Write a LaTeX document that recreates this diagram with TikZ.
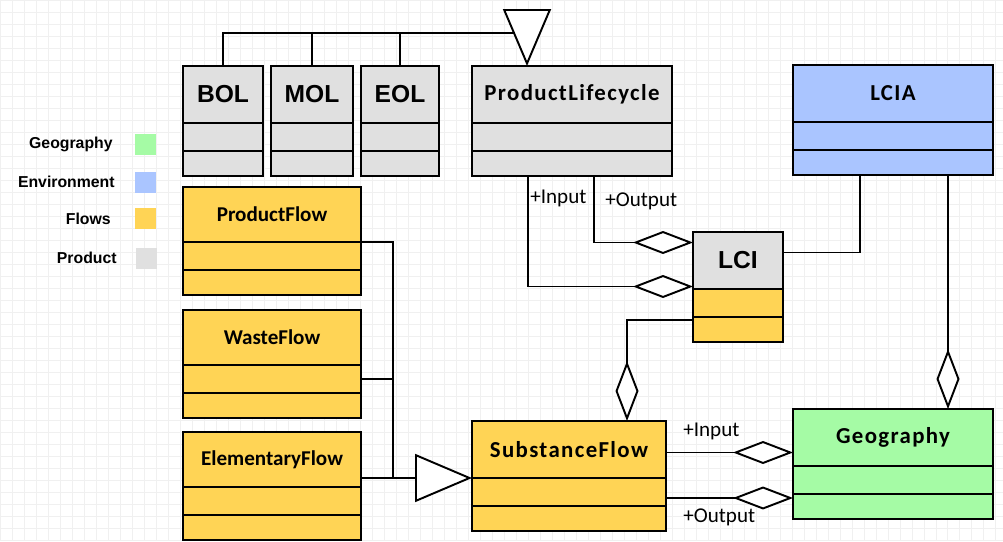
\documentclass[tikz,border=0pt]{standalone}
\usepackage{fontspec}
\setmainfont{Carlito}
\newfontfamily\legfont{Liberation Sans}
\newfontfamily\clswide{Carlito}[LetterSpace=6]
\usepackage{tikz}
\usetikzlibrary{positioning, arrows.meta, calc}
\definecolor{prodgray}{HTML}{E0E0E0}
\definecolor{flowyellow}{HTML}{FFD455}
\definecolor{envblue}{HTML}{AAC5FF}
\definecolor{geogreen}{HTML}{A5FBA5}
\tikzset{%
    % compartments of a class box
    ctitle/.style = {draw, line width=1.1pt, rectangle, outer sep=0pt,
    inner sep=0pt, minimum height=1.14cm},
    cpart/.style  = {draw, line width=1.1pt, rectangle, outer sep=0pt,
    inner sep=0pt, minimum height=0.56cm},
    clast/.style  = {draw, line width=1.1pt, rectangle, outer sep=0pt,
    inner sep=0pt, minimum height=0.5cm},
    % fonts of the titles
    bigname/.style  = {font=\legfont\bfseries\fontsize{14}{16}\selectfont},
    flowname/.style = {font=\bfseries\fontsize{12}{14}\selectfont},
    widename/.style = {font=\clswide\bfseries\fontsize{13}{15}\selectfont},
    % legend
    legtext/.style = {anchor=east, inner sep=0pt,
    font=\legfont\bfseries\fontsize{9}{11}\selectfont},
    legbox/.style  = {rectangle, minimum size=0.42cm, inner sep=0pt},
    % role labels
    role/.style = {anchor=west, inner sep=0pt, font=\fontsize{12}{14}\selectfont}
}

\begin{document}
\begin{tikzpicture}[x=0.02cm, y=-0.02cm]

	\tikzstyle{line}=[line width=1.1pt]
	\tikzstyle{gen}=[line width=1.1pt, -{Triangle[fill=white, length=1.14cm, width=0.96cm]}]
	\tikzstyle{agg}=[line width=1.1pt, -{Diamond[fill=white, length=1.2cm, width=0.46cm]}]
	\tikzstyle{gridline}=[black!6, line width=0.4pt]

	\useasboundingbox (0,0) rectangle (1003,541);
	\draw[gridline, step=0.24cm] (0,541) grid (1003,0);

	% legend
	\node[legtext] (lgeo) at (113,144) {Geography};
	\node[legbox, fill=geogreen] (kgeo) at (145,144) {};
	\node[legtext] (lenv) at (115,182) {Environment};
	\node[legbox, fill=envblue] (kenv) at (145,182) {};
	\node[legtext] (lflow) at (111,219) {Flows};
	\node[legbox, fill=flowyellow] (kflow) at (145,218) {};
	\node[legtext] (lprod) at (117,258) {Product};
	\node[legbox, fill=prodgray] (kprod) at (146,258) {};

	% product classes
	\node[ctitle, bigname, fill=prodgray, minimum width=1.6cm] (bol) at (223,94.5) {BOL};
	\node[cpart, fill=prodgray, minimum width=1.6cm, below=0pt of bol] (bol2) {};
	\node[clast, fill=prodgray, minimum width=1.6cm, below=0pt of bol2] (bol3) {};
	\node[ctitle, bigname, fill=prodgray, minimum width=1.64cm] (mol) at (312,94.5) {MOL};
	\node[cpart, fill=prodgray, minimum width=1.64cm, below=0pt of mol] (mol2) {};
	\node[clast, fill=prodgray, minimum width=1.64cm, below=0pt of mol2] (mol3) {};
	\node[ctitle, bigname, fill=prodgray, minimum width=1.56cm] (eol) at (400,94.5) {EOL};
	\node[cpart, fill=prodgray, minimum width=1.56cm, below=0pt of eol] (eol2) {};
	\node[clast, fill=prodgray, minimum width=1.56cm, below=0pt of eol2] (eol3) {};
	\node[ctitle, widename, fill=prodgray, minimum width=4cm] (plc) at (572,94.5) {ProductLifecycle};
	\node[cpart, fill=prodgray, minimum width=4cm, below=0pt of plc] (plc2) {};
	\node[clast, fill=prodgray, minimum width=4cm, below=0pt of plc2] (plc3) {};

	% environment
	\node[ctitle, widename, fill=envblue, minimum width=4cm] (lcia) at (893,93.5) {LCIA};
	\node[cpart, fill=envblue, minimum width=4cm, below=0pt of lcia] (lcia2) {};
	\node[clast, fill=envblue, minimum width=4cm, below=0pt of lcia2] (lcia3) {};

	\node[ctitle, bigname, fill=prodgray, minimum width=1.8cm] (lci) at (738,260.5) {LCI};
	\node[cpart, fill=flowyellow, minimum width=1.8cm, below=0pt of lci] (lci2) {};
	\node[clast, fill=flowyellow, minimum width=1.8cm, below=0pt of lci2] (lci3) {};

	% flows
	\node[ctitle, flowname, fill=flowyellow, minimum width=3.56cm, minimum height=1.1cm] (pf) at (272,214.5) {ProductFlow};
	\node[cpart, fill=flowyellow, minimum width=3.56cm, below=0pt of pf] (pf2) {};
	\node[clast, fill=flowyellow, minimum width=3.56cm, below=0pt of pf2] (pf3) {};
	\node[ctitle, flowname, fill=flowyellow, minimum width=3.56cm, minimum height=1.1cm] (wf) at (272,337.5) {WasteFlow};
	\node[cpart, fill=flowyellow, minimum width=3.56cm, below=0pt of wf] (wf2) {};
	\node[clast, fill=flowyellow, minimum width=3.56cm, below=0pt of wf2] (wf3) {};
	\node[ctitle, flowname, fill=flowyellow, minimum width=3.56cm, minimum height=1.1cm] (ef) at (272,459.5) {ElementaryFlow};
	\node[cpart, fill=flowyellow, minimum width=3.56cm, below=0pt of ef] (ef2) {};
	\node[clast, fill=flowyellow, minimum width=3.56cm, below=0pt of ef2] (ef3) {};
	\node[ctitle, widename, fill=flowyellow, minimum width=3.88cm] (sf) at (569,449.5) {SubstanceFlow};
	\node[cpart, fill=flowyellow, minimum width=3.88cm, below=0pt of sf] (sf2) {};
	\node[clast, fill=flowyellow, minimum width=3.88cm, below=0pt of sf2] (sf3) {};

	% geography
	\node[ctitle, widename, fill=geogreen, minimum width=4cm] (geo) at (893,437.5) {Geography};
	\node[cpart, fill=geogreen, minimum width=4cm, below=0pt of geo] (geo2) {};
	\node[clast, fill=geogreen, minimum width=4cm, below=0pt of geo2] (geo3) {};

	% generalisation of the life phases
	\coordinate (gtop) at (527,9);
	\coordinate (gmid) at (527,33);
	\draw[line] (bol.north) |- (gmid);
	\draw[line] (mol.north) -- (mol.north |- gmid);
	\draw[line] (eol.north) -- (eol.north |- gmid);
	\draw[gen] (gtop) -- (plc.north -| gtop);

	% generalisation of the flows
	\coordinate (fj) at (393,478);
	\draw[line] (pf2.north east) -| (fj);
	\draw[line] (wf2.east) -| (fj);
	\draw[gen] (ef.east |- sf2.north west) -- (sf2.north west);

	% aggregations
	\draw[agg] ($(plc3.south)+(-44,0)$) |- ($(lci.west)+(0,26)$);
	\draw[agg] ($(plc3.south)+(22,0)$) |- ($(lci.west)+(0,-18)$);
	\node[role] (pin) at (530,198) {+Input};
	\node[role] (pout) at (605,201) {+Output};

	\draw[line] ($(lci.east)+(0,-8)$) -| ($(lcia3.south)+(-33,0)$);
	\draw[agg] ($(lcia3.south)+(55,0)$) -- ($(geo.north)+(55,0)$);
	\draw[agg] ($(lci3.north west)+(0,3)$) -| ($(sf.north)+(58,0)$);

	\coordinate (si) at ($(sf.east)+(0,3)$);
	\coordinate (so) at ($(sf2.east)+(0,6)$);
	\draw[agg] (si) -- (si -| geo.west);
	\draw[agg] (so) -- (so -| geo.west);
	\node[role] (sin) at (683,431) {+Input};
	\node[role] (sout) at (683,517) {+Output};

\end{tikzpicture}
\end{document}
